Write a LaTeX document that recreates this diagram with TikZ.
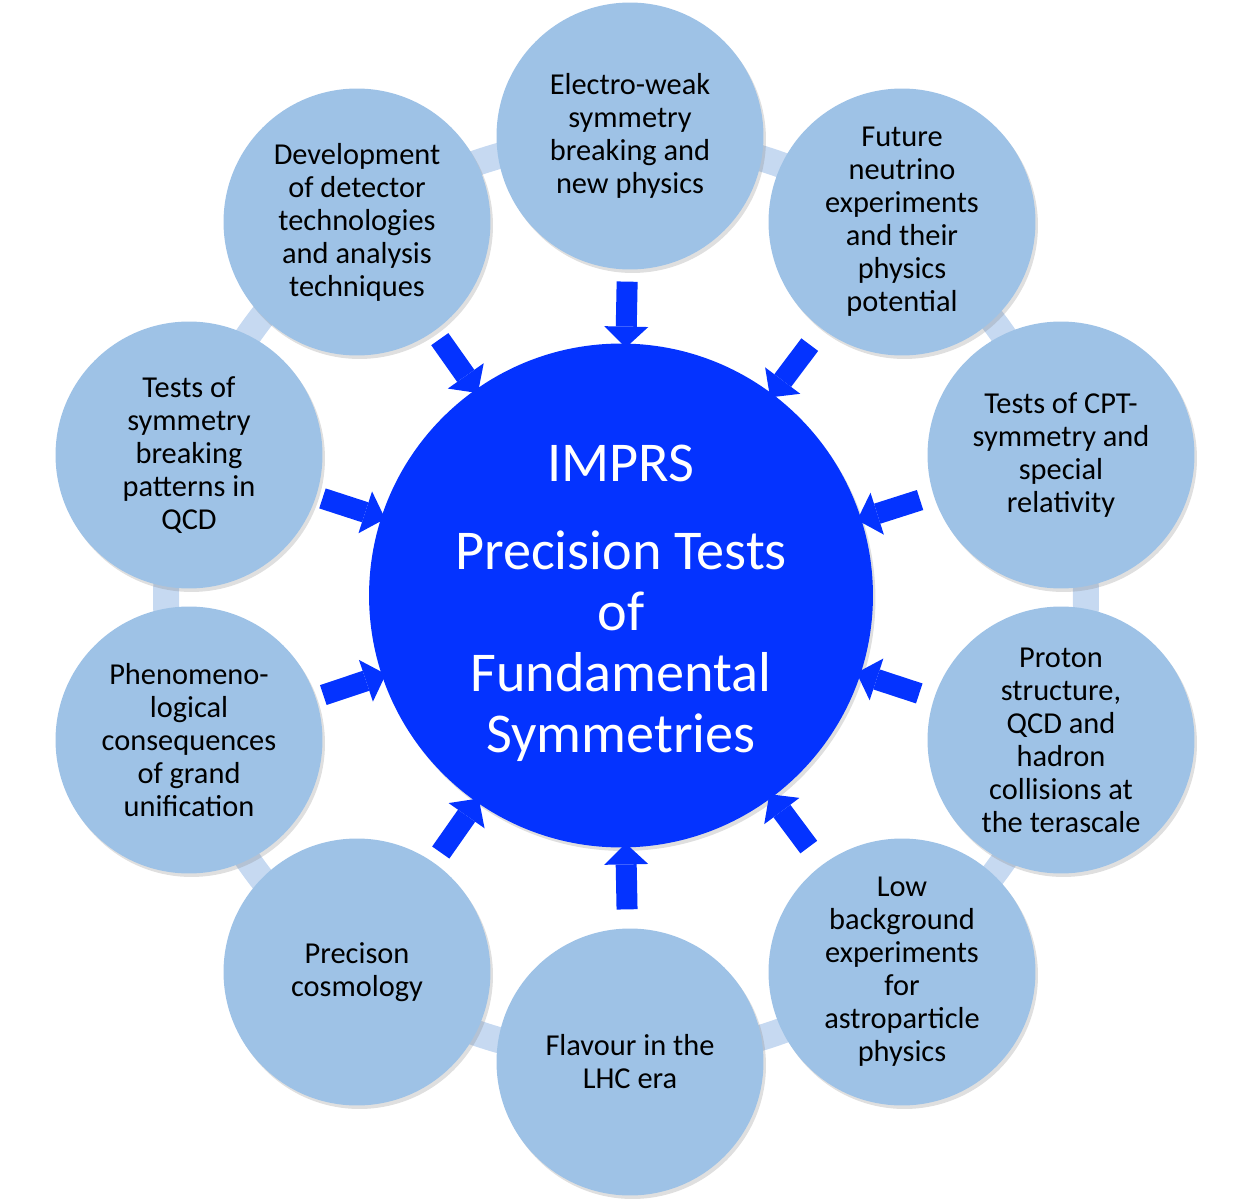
\documentclass[tikz,border=0pt]{standalone}
\usepackage{fontspec}
\setmainfont{Carlito}
\usetikzlibrary{arrows.meta,calc,shadows}

\definecolor{bubble}{RGB}{158,194,230}
\definecolor{ringblue}{RGB}{198,217,241}
\definecolor{impblue}{RGB}{4,51,255}

\begin{document}
\begin{tikzpicture}[x=0.02cm, y=-0.02cm,
    topic/.style={circle, fill=bubble, minimum size=5.34cm, inner sep=0pt, align=center,
        font=\fontsize{17.3}{18.8}\selectfont,
        drop shadow={opacity=0.25, shadow xshift=0.5mm, shadow yshift=-0.7mm}},
    push/.style={impblue, line width=0.42cm, -{Triangle[width=0.88cm, length=0.42cm, line width=0pt]}}]

    \useasboundingbox (0,0) rectangle (1251,1199);

    % ring behind the topics
    \coordinate (hub) at (626,598);
    \draw[ringblue, line width=0.52cm] (hub) circle[radius=9.2cm];

    % topics round the ring
    \node (ew) [topic] at (630,136) {Electro-weak\\symmetry\\breaking and\\new physics};
    \node (nu) [topic] at (902,222) {Future\\neutrino\\experiments\\and their\\physics\\potential};
    \node (cpt) [topic] at (1061,455) {Tests of CPT-\\symmetry and\\special\\relativity};
    \node (proton) [topic] at (1061,740) {Proton\\structure,\\QCD and\\hadron\\collisions at\\the terascale};
    \node (lowbg) [topic] at (902,972) {Low\\background\\experiments\\for\\astroparticle\\physics};
    \node (flavour) [topic] at (630,1062) {Flavour in the\\LHC era};
    \node (cosmo) [topic] at (357,972) {Precison\\cosmology};
    \node (gut) [topic] at (189,740) {Phenomeno-\\logical\\consequences\\of grand\\unification};
    \node (qcd) [topic] at (189,455) {Tests of\\symmetry\\breaking\\patterns in\\QCD};
    \node (detector) [topic] at (357,222) {Development\\of detector\\technologies\\and analysis\\techniques};

    % centre
    \node (core) [circle, fill=impblue, minimum size=10.08cm, inner sep=0pt,
        drop shadow={opacity=0.25, shadow xshift=0.5mm, shadow yshift=-0.7mm}] at (621,595.5) {};
    \node (title) [text=white, align=center, font=\fontsize{32}{34.8}\selectfont]
        at ($(core)+(0,8)$) {IMPRS\\[15pt]Precision Tests\\of\\Fundamental\\Symmetries};

    % arrows into the centre
    \foreach \t in {ew,nu,cpt,proton,lowbg,flavour,cosmo,gut,qcd,detector}
        \draw[push] ($(core)!6.28cm!(\t)$) -- ($(core)!4.96cm!(\t)$);

\end{tikzpicture}
\end{document}
